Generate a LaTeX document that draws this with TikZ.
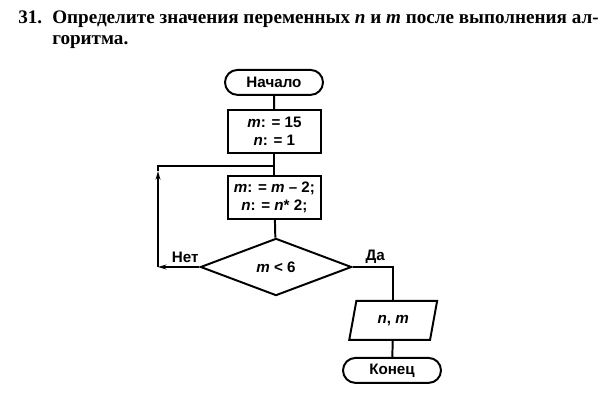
\documentclass[tikz,border=0pt]{standalone}
\usepackage{fontspec}
\setmainfont{Liberation Serif}
\setsansfont{Liberation Sans}
\usepackage{tikz}
\usetikzlibrary{shapes.geometric, arrows.meta}
\tikzset{
    flow/.style={draw, line width=1.4pt, font=\sffamily\bfseries\fontsize{10.8}{12.8}\selectfont, align=center, inner sep=0pt},
    terminal/.style={flow, rectangle, rounded corners=8.9pt, minimum width=2.45cm, minimum height=0.625cm},
    process/.style={flow, rectangle, minimum width=2.33cm, minimum height=1.075cm},
    decision/.style={flow, diamond, minimum width=3.78cm, minimum height=1.43cm},
    io/.style={flow, trapezium, trapezium left angle=74, trapezium right angle=106, trapezium stretches=true, minimum width=2.2cm, minimum height=0.975cm},
    link/.style={line width=1.4pt},
    arrowlink/.style={link, -{Stealth[length=6pt, width=3.5pt]}},
    branch/.style={font=\sffamily\bfseries\fontsize{10.8}{12}\selectfont},
    task/.style={font=\bfseries\fontsize{13.6}{14.6}\selectfont, inner sep=0pt}
}

\begin{document}
\begin{tikzpicture}
    \useasboundingbox (0,0) rectangle (15.1,-10.25);

    % task text
    \node[task, anchor=base west] (num) at (0.45,-0.6) {31.};
    \node[task, anchor=base west] (line1) at (1.3,-0.6)
        {Определите значения переменных \textit{n} и \textit{m} после выполнения ал-};
    \node[task, anchor=base west] (line2) at (1.3,-1.11) {горитма.};

    % blocks
    \node[terminal] (start) at (6.85,-2.06) {Начало};
    \node[process] (init) at (6.86,-3.29) {\textit{m}: = 15\\\textit{n}: = 1};
    \node[process] (upd) at (6.86,-4.94) {\textit{m}: = \textit{m} -- 2;\\\textit{n}: = \textit{n}* 2;};
    \node[decision] (cond) at (6.9,-6.675) {\textit{m} < 6};
    \node[io] (out) at (9.83,-8.01) {\textit{n}, \textit{m}};
    \node[terminal] (stop) at (9.8,-9.26) {Конец};

    \coordinate (join) at (6.85,-4.15);
    \coordinate (lc) at (3.95,-6.675);
    \coordinate (lt) at (3.95,-4.15);
    \coordinate (up) at (3.95,-4.28);
    \coordinate (rc) at (9.825,-6.675);

    % connectors
    \draw[link] (start) -- (init);
    \draw[link] (init) -- (upd);
    \draw[link] (upd) -- (cond);
    \draw[arrowlink] (cond.west) -- (lc);
    \draw[arrowlink] (lc) -- (up);
    \draw[link] (up) -- (lt) -- (join);
    \draw[link] (cond.east) -- (rc) -- (out.north -| rc);
    \draw[link] (out) -- (stop);

    \node[branch] (no) at (4.63,-6.43) {Нет};
    \node[branch] (yes) at (9.38,-6.43) {Да};
\end{tikzpicture}
\end{document}
